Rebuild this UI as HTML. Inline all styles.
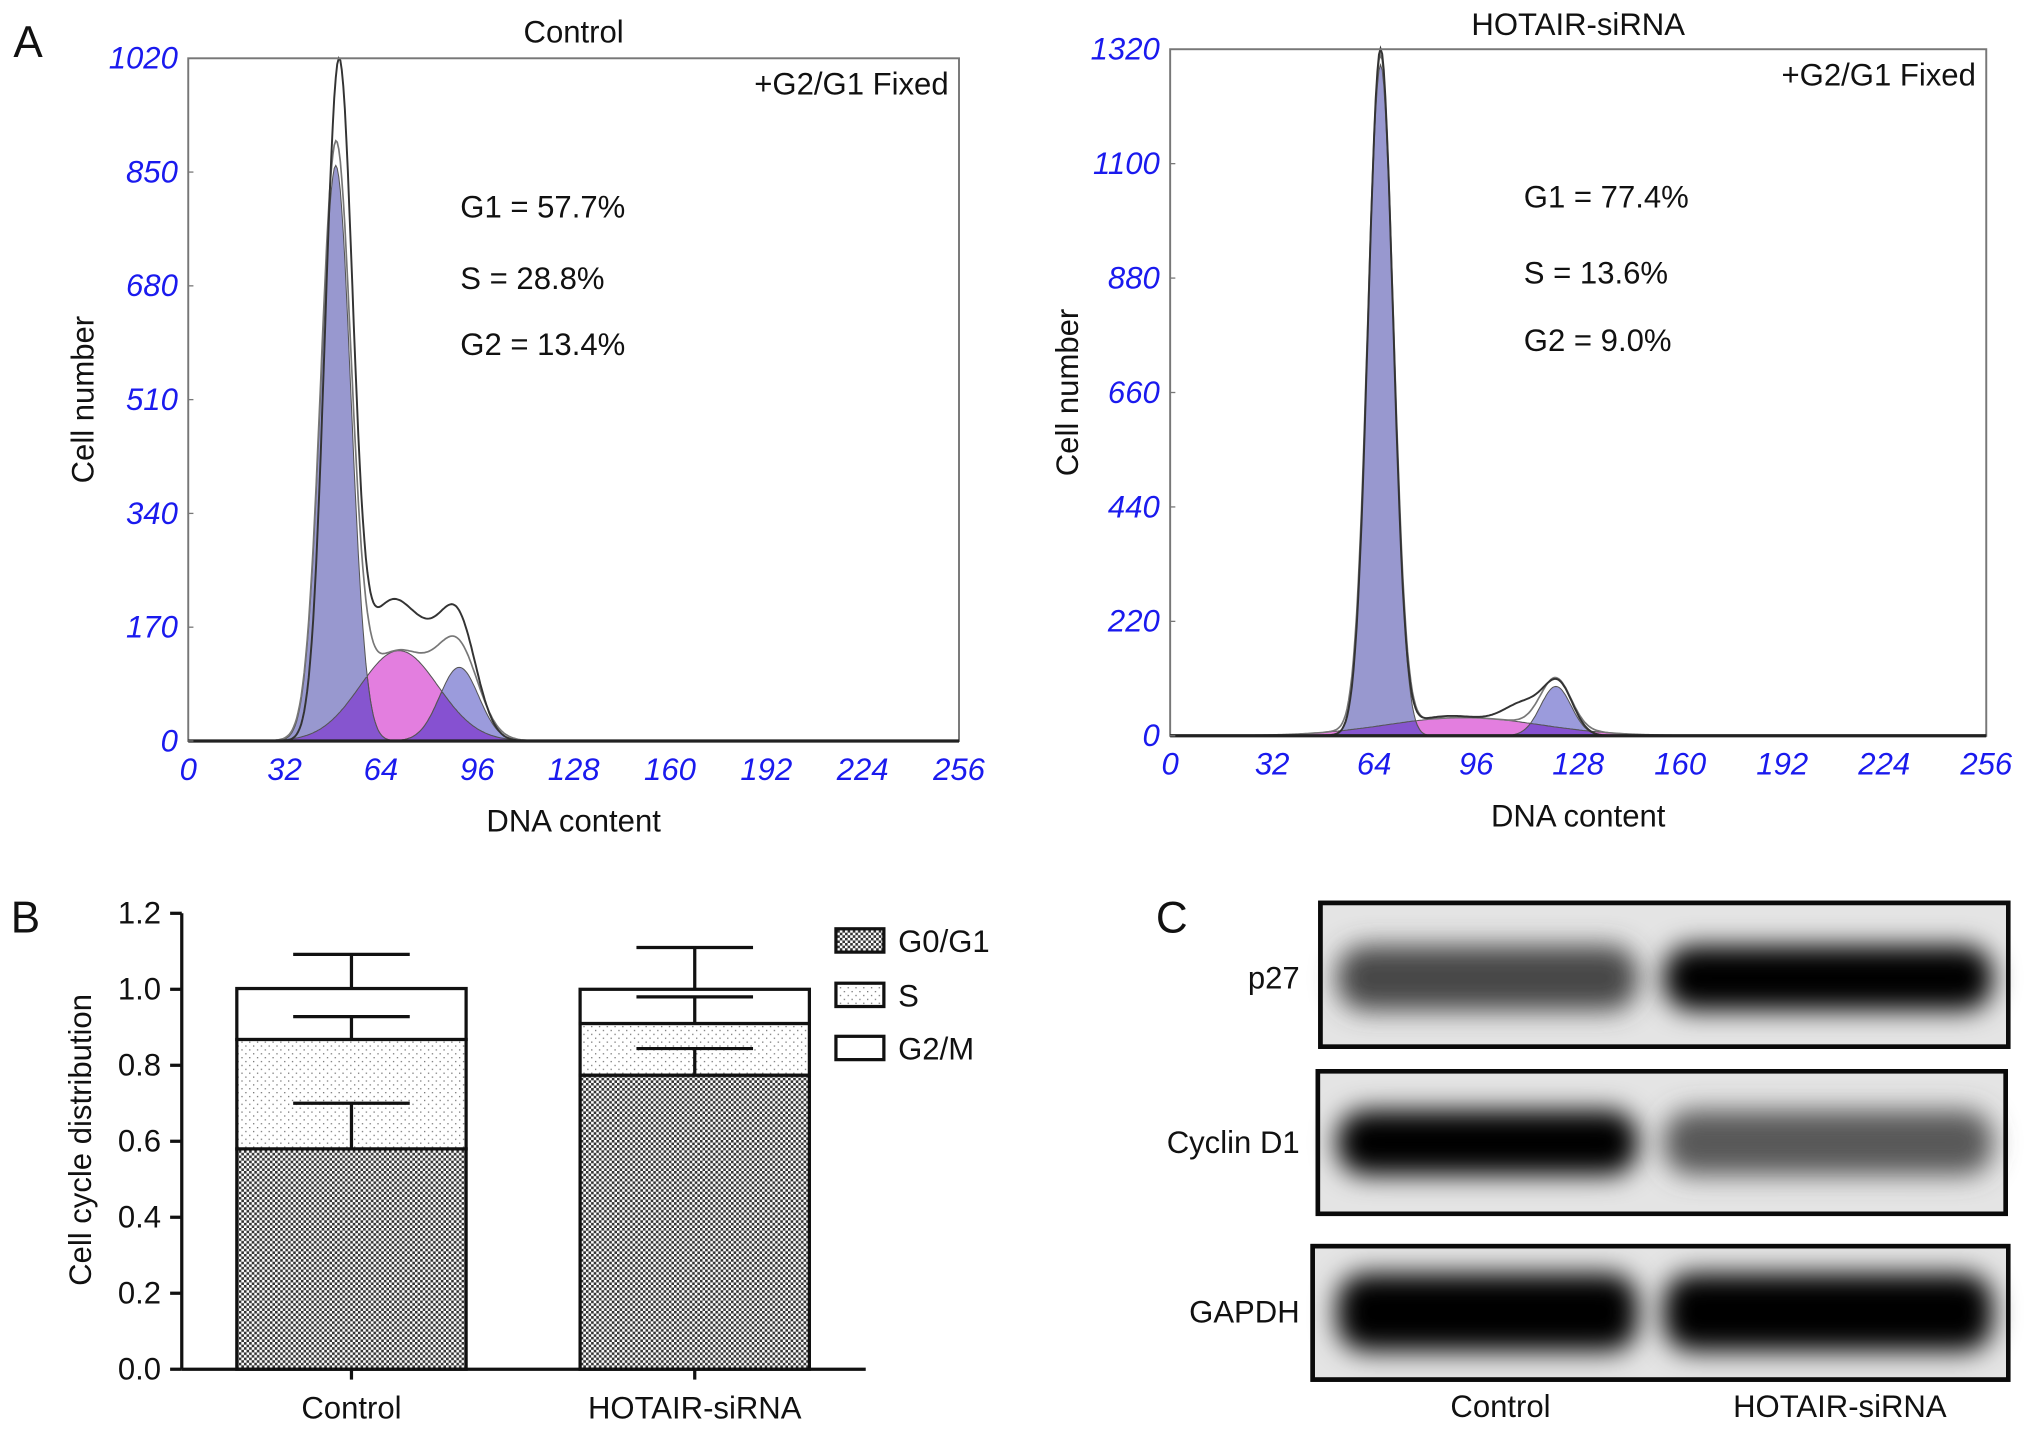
<!DOCTYPE html>
<html><head><meta charset="utf-8"><style>
html,body{margin:0;padding:0;background:#fff}
svg{display:block}
text{font-family:"Liberation Sans",sans-serif}
.tk{fill:#1a1aee;font-style:italic;font-size:24px}
.lb{fill:#111;font-size:24px}
</style></head><body>
<svg id="fig" width="2032" height="1434" viewBox="0 0 1568 1107" xmlns="http://www.w3.org/2000/svg">
<defs>
<filter id="blur" x="-20%" y="-60%" width="140%" height="220%"><feGaussianBlur stdDeviation="10"/></filter>
<pattern id="dense" width="4" height="4" patternUnits="userSpaceOnUse"><rect width="4" height="4" fill="#fff"/><rect width="2" height="2" fill="#333"/><rect x="2" y="2" width="2" height="2" fill="#333"/></pattern>
<pattern id="dots" width="6" height="6" patternUnits="userSpaceOnUse"><rect width="6" height="6" fill="#fff"/><rect width="1" height="1" fill="#777"/><rect x="3" y="3" width="1" height="1" fill="#777"/></pattern>
</defs>
<g id="root"></g>
</svg>
<script>
const NS='http://www.w3.org/2000/svg';
// ---- Panel A data (Gaussian model components: mean, sd, height) ----
const xTicks=[0,32,64,96,128,160,192,224,256];
const ctrlYTicks=[0,170,340,510,680,850,1020];
const siYTicks=[0,220,440,660,880,1100,1320];
const ctrlG1=[49,5.0,860];
const ctrlS=[70,13,135];
const ctrlG2=[90,6.5,110];
const ctrlRaw=[[50,4.6,1000],[64,7,130],[76,9,150],[90,6,150]];
const siG1=[66,4.0,1290];
const siS=[92,24,35];
const siG2=[121,4.8,95];
const siRaw=[[66,3.9,1310],[88,14,38],[112,7,55],[122,4.5,85]];
const ctrlStats=['G1 = 57.7%','S = 28.8%','G2 = 13.4%'];
const siStats=['G1 = 77.4%','S = 13.6%','G2 = 9.0%'];
// ---- Panel B data ----
const groups=['Control','HOTAIR-siRNA'];
const g1Vals=[0.58,0.774];
const sVals=[0.288,0.136];
const g2Vals=[0.134,0.090];
const g1Err=[0.12,0.07];
const sErr=[0.06,0.07];
const g2Err=[0.09,0.11];
const bTicks=['0.0','0.2','0.4','0.6','0.8','1.0','1.2'];
// ---- Panel C data (band intensity 0..1) ----
const blotRows=['p27','Cyclin D1','GAPDH'];
const blotCtrl=[0.6,1.0,1.0];
const blotSi=[1.0,0.5,1.0];

const root=document.getElementById('root');
function el(tag,attrs,parent,txt){const e=document.createElementNS(NS,tag);for(const k in attrs)e.setAttribute(k,attrs[k]);if(txt!==undefined)e.textContent=txt;(parent||root).appendChild(e);return e;}
function gauss(x,p){return p[2]*Math.exp(-0.5*((x-p[0])/p[1])**2);}

function histo(cfg){
  const g=el('g',{});
  
  
  const X=v=>cfg.x0+(v/256)*(cfg.x1-cfg.x0);
  const Y=v=>cfg.y1-(v/cfg.ymax)*(cfg.y1-cfg.y0);
  const area=(fn,fill,op,name)=>{let d='M'+X(0)+','+Y(0);for(let v=0;v<=256;v+=0.5)d+='L'+X(v).toFixed(1)+','+Y(fn(v)).toFixed(1);d+='L'+X(256)+','+Y(0)+'Z';
    const p=el('path',{d:d,fill:fill,'fill-opacity':op,stroke:'#555','stroke-width':0.8},g);
    
    };
  area(v=>gauss(v,cfg.S),'#e070dc',0.9,'s-phase-area');
  area(v=>gauss(v,cfg.G2),'#7a7ad0',0.75,'g2-phase-area');
  area(v=>Math.min(gauss(v,cfg.S),gauss(v,cfg.G2)),'#8040d0',0.7,'s-g2-overlap');
  area(v=>gauss(v,cfg.G1),'#8a8ac8',0.88,'g1-phase-area');
  area(v=>Math.min(gauss(v,cfg.G1),gauss(v,cfg.S)),'#8040d0',0.7,'g1-s-overlap');
  let d='';for(let v=0;v<=256;v+=0.5){const y=gauss(v,cfg.G1)+gauss(v,cfg.S)+gauss(v,cfg.G2);d+=(v?'L':'M')+X(v).toFixed(1)+','+Y(y).toFixed(1);}
  const fit=el('path',{d:d,fill:'none',stroke:'#777','stroke-width':1.3},g);
  
  
  d='';for(let v=0;v<=256;v+=0.5){const y=cfg.raw.reduce((a,p)=>a+gauss(v,p),0);d+=(v?'L':'M')+X(v).toFixed(1)+','+Y(y).toFixed(1);}
  const raw=el('path',{d:d,fill:'none',stroke:'#333','stroke-width':1.5},g);
  
  
  const fr=el('rect',{x:cfg.x0,y:cfg.y0,width:cfg.x1-cfg.x0,height:cfg.y1-cfg.y0,fill:'none',stroke:'#777','stroke-width':1.5},g);
  
  
  el('line',{x1:cfg.x0,y1:cfg.y1,x2:cfg.x1,y2:cfg.y1,stroke:'#222','stroke-width':2.5},g);
  xTicks.forEach(v=>{const t=el('text',{x:X(v),y:cfg.y1+30,'text-anchor':'middle',class:'tk'},g,v);
    
    });
  cfg.yt.forEach(v=>{const t=el('text',{x:cfg.x0-8,y:Y(v)+8,'text-anchor':'end',class:'tk'},g,v);
    
    
    el('line',{x1:cfg.x0,y1:Y(v),x2:cfg.x0+4,y2:Y(v),stroke:'#777'},g);});
  const ti=el('text',{x:(cfg.x0+cfg.x1)/2,y:cfg.titleY,'text-anchor':'middle',class:'lb'},g,cfg.title);
  
  
  const fx=el('text',{x:cfg.x1-8,y:cfg.y0+28,'text-anchor':'end',class:'lb'},g,'+G2/G1 Fixed');
  
  
  cfg.stats.forEach((s,i)=>{const t=el('text',{x:cfg.sx,y:cfg.sy[i],class:'lb'},g,s);
    
    });
  const xl=el('text',{x:(cfg.x0+cfg.x1)/2,y:cfg.y1+70,'text-anchor':'middle',class:'lb'},g,'DNA content');
  
  
  const yl=el('text',{x:0,y:0,'text-anchor':'middle',class:'lb',transform:'translate('+cfg.ylx+','+((cfg.y0+cfg.y1)/2)+') rotate(-90)'},g,'Cell number');
  
  
}
histo({name:'control-histogram',x0:145,x1:740,y0:45,y1:572,ymax:1020,yt:ctrlYTicks,G1:ctrlG1,S:ctrlS,G2:ctrlG2,raw:ctrlRaw,title:'Control',titleY:33,stats:ctrlStats,sx:355,sy:[168,223,274],ylx:72});
histo({name:'hotair-histogram',x0:903,x1:1533,y0:38,y1:568,ymax:1320,yt:siYTicks,G1:siG1,S:siS,G2:siG2,raw:siRaw,title:'HOTAIR-siRNA',titleY:27,stats:siStats,sx:1176,sy:[160,219,271],ylx:832});

// ---- Panel B ----
(function(){
  const g=el('g',{});
  
  
  const ax=140,y0=1057,unit=293.3,bw=177,cx=[271,536];
  const Y=v=>y0-v*unit;
  groups.forEach((name,i)=>{
    const x=cx[i]-bw/2;
    const segs=[[0,g1Vals[i],'url(#dense)','bar-g0g1-'+i],[g1Vals[i],g1Vals[i]+sVals[i],'url(#dots)','bar-s-'+i],[g1Vals[i]+sVals[i],g1Vals[i]+sVals[i]+g2Vals[i],'#fff','bar-g2m-'+i]];
    segs.forEach(s=>{const r=el('rect',{x:x,y:Y(s[1]),width:bw,height:Y(s[0])-Y(s[1]),fill:s[2],stroke:'#111','stroke-width':2.5},g);
      
      });
    const tops=[g1Vals[i],g1Vals[i]+sVals[i],g1Vals[i]+sVals[i]+g2Vals[i]],errs=[g1Err[i],sErr[i],g2Err[i]];
    tops.forEach((t,k)=>{const e=el('path',{d:'M'+cx[i]+','+Y(t)+'V'+Y(t+errs[k])+'M'+(cx[i]-45)+','+Y(t+errs[k])+'H'+(cx[i]+45),stroke:'#111','stroke-width':2.5,fill:'none'},g);
      
      });
    const lb=el('text',{x:cx[i],y:1095,'text-anchor':'middle',class:'lb'},g,name);
    
    
    el('line',{x1:cx[i],y1:y0,x2:cx[i],y2:y0+8,stroke:'#111','stroke-width':2.5},g);
  });
  el('line',{x1:ax,y1:Y(1.2),x2:ax,y2:y0,stroke:'#111','stroke-width':2.5},g);
  el('line',{x1:ax,y1:y0,x2:668,y2:y0,stroke:'#111','stroke-width':2.5},g);
  bTicks.forEach(s=>{const v=parseFloat(s);el('line',{x1:ax-9,y1:Y(v),x2:ax,y2:Y(v),stroke:'#111','stroke-width':2.5},g);
    const t=el('text',{x:ax-16,y:Y(v)+8,'text-anchor':'end',class:'lb'},g,s);
    
    });
  const yl=el('text',{x:0,y:0,'text-anchor':'middle',class:'lb',transform:'translate(70,880) rotate(-90)'},g,'Cell cycle distribution');
  
  
  [['G0/G1','url(#dense)',717],['S','url(#dots)',759],['G2/M','#fff',800]].forEach(l=>{
    const r=el('rect',{x:645,y:l[2],width:37,height:18,fill:l[1],stroke:'#111','stroke-width':2.5},g);
    
    
    const t=el('text',{x:693,y:l[2]+18,class:'lb'},g,l[0]);
    
    });
})();

// ---- Panel C ----
(function(){
  const g=el('g',{});
  
  
  const boxes=[[1019,697,531,111,755],[1017,827,531,110,882],[1013,962,537,103,1013]];
  blotRows.forEach((name,i)=>{
    const b=boxes[i];
    const r=el('rect',{x:b[0],y:b[1],width:b[2],height:b[3],fill:'#e4e4e4',stroke:'#0a0a0a','stroke-width':3.5},g);
    
    
    const bh=i==2?60:50;
    [[1028,1268,blotCtrl[i]],[1280,1542,blotSi[i]]].forEach(l=>{
      const v=Math.round(255*(1-l[2])*0.7);
      const e=el('rect',{x:l[0]+4,y:b[4]-bh/2,width:l[1]-l[0]-8,height:bh,rx:22,fill:'rgb('+v+','+v+','+v+')',filter:'url(#blur)'},g);
      
      });
    el('rect',{x:b[0],y:b[1],width:b[2],height:b[3],fill:'none',stroke:'#0a0a0a','stroke-width':3.5},g);
    const t=el('text',{x:1003,y:b[4]+8,'text-anchor':'end',class:'lb'},g,name);
    
    
  });
  [['Control',1158],['HOTAIR-siRNA',1420]].forEach(l=>{const t=el('text',{x:l[1],y:1094,'text-anchor':'middle',class:'lb'},g,l[0]);
    
    });
})();
[['A',10,44],['B',8,720],['C',892,720]].forEach(p=>{const t=el('text',{x:p[1],y:p[2],style:'font-size:34px;fill:#111'},root,p[0]);
  
  });
</script>
</body></html>
